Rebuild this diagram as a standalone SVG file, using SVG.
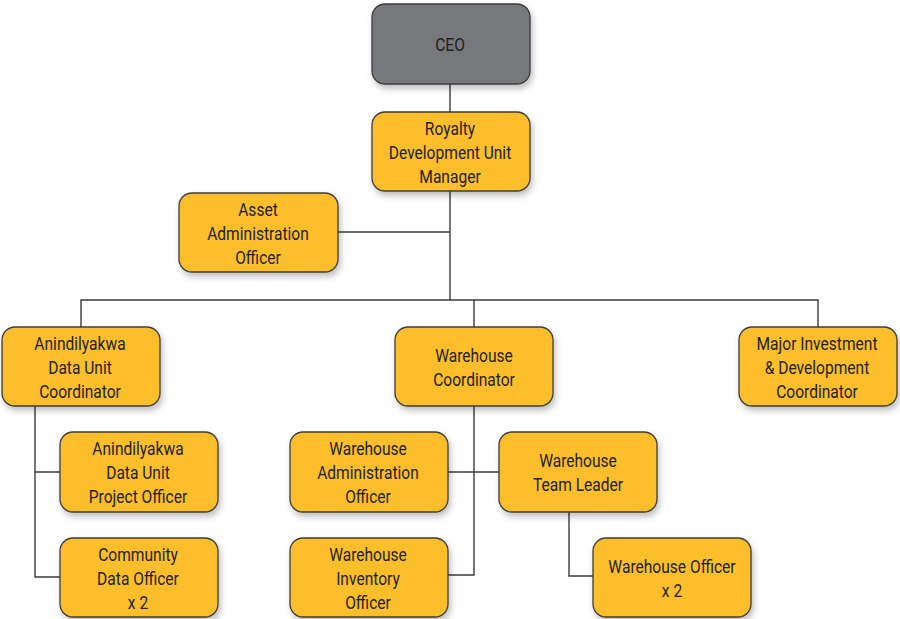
<svg xmlns="http://www.w3.org/2000/svg" width="900" height="619" viewBox="0 0 900 619">
  <style>
    .box { fill: #fcbe2b; stroke: #3d3d3d; stroke-width: 1.3; filter: url(#shadow); }
    .ceo { fill: #77787b; }
    .lbl { font-family: Roboto, "Liberation Sans", sans-serif; font-size: 19px; fill: #231f20; text-anchor: middle; }
    .link { fill: none; stroke: #3a3a3a; stroke-width: 1.4; }
  </style>
  <defs>
    <filter id="shadow" x="-10%" y="-10%" width="125%" height="135%">
      <feDropShadow dx="2" dy="4" stdDeviation="3" flood-color="#000" flood-opacity="0.25"/>
    </filter>
  </defs>
  <rect width="900" height="619" fill="#ffffff"/>

  <g id="connectors">
    <path class="link" d="M450 84V112"/>
    <path class="link" d="M450 191V300"/>
    <path class="link" d="M338 232H450"/>
    <path class="link" d="M81 327V300H818V327"/>
    <path class="link" d="M474 300V327"/>
    <path class="link" d="M35 406V577H60M35 472H60"/>
    <path class="link" d="M474 406V575H448M448 472H499"/>
    <path class="link" d="M569 512V576H593"/>
  </g>

  <g id="ceo">
    <rect class="box ceo" x="372" y="4" width="158" height="80" rx="13"/>
    <text class="lbl" transform="translate(450,0) scale(0.82,1)"><tspan x="0" y="51">CEO</tspan></text>
  </g>
  <g id="royalty-manager">
    <rect class="box" x="372" y="112" width="158" height="79" rx="13"/>
    <text class="lbl" transform="translate(450,0) scale(0.82,1)"><tspan x="0" y="135">Royalty</tspan><tspan x="0" y="159">Development Unit</tspan><tspan x="0" y="183">Manager</tspan></text>
  </g>
  <g id="asset-officer">
    <rect class="box" x="179" y="193" width="159" height="79" rx="13"/>
    <text class="lbl" transform="translate(258,0) scale(0.82,1)"><tspan x="0" y="216">Asset</tspan><tspan x="0" y="240">Administration</tspan><tspan x="0" y="264">Officer</tspan></text>
  </g>
  <g id="data-unit-coordinator">
    <rect class="box" x="2" y="327" width="158" height="79" rx="13"/>
    <text class="lbl" transform="translate(80,0) scale(0.82,1)"><tspan x="0" y="350">Anindilyakwa</tspan><tspan x="0" y="374">Data Unit</tspan><tspan x="0" y="398">Coordinator</tspan></text>
  </g>
  <g id="warehouse-coordinator">
    <rect class="box" x="395" y="327" width="158" height="79" rx="13"/>
    <text class="lbl" transform="translate(474,0) scale(0.82,1)"><tspan x="0" y="362">Warehouse</tspan><tspan x="0" y="386">Coordinator</tspan></text>
  </g>
  <g id="investment-coordinator">
    <rect class="box" x="739" y="327" width="158" height="79" rx="13"/>
    <text class="lbl" transform="translate(817,0) scale(0.82,1)"><tspan x="0" y="350">Major Investment</tspan><tspan x="0" y="374">&amp; Development</tspan><tspan x="0" y="398">Coordinator</tspan></text>
  </g>
  <g id="data-unit-project-officer">
    <rect class="box" x="60" y="432" width="158" height="80" rx="13"/>
    <text class="lbl" transform="translate(138,0) scale(0.82,1)"><tspan x="0" y="455">Anindilyakwa</tspan><tspan x="0" y="479">Data Unit</tspan><tspan x="0" y="503">Project Officer</tspan></text>
  </g>
  <g id="community-data-officer">
    <rect class="box" x="60" y="538" width="158" height="79" rx="13"/>
    <text class="lbl" transform="translate(138,0) scale(0.82,1)"><tspan x="0" y="561">Community</tspan><tspan x="0" y="585">Data Officer</tspan><tspan x="0" y="609">x 2</tspan></text>
  </g>
  <g id="warehouse-admin-officer">
    <rect class="box" x="290" y="432" width="158" height="80" rx="13"/>
    <text class="lbl" transform="translate(368,0) scale(0.82,1)"><tspan x="0" y="455">Warehouse</tspan><tspan x="0" y="479">Administration</tspan><tspan x="0" y="503">Officer</tspan></text>
  </g>
  <g id="warehouse-team-leader">
    <rect class="box" x="499" y="432" width="158" height="80" rx="13"/>
    <text class="lbl" transform="translate(578,0) scale(0.82,1)"><tspan x="0" y="467">Warehouse</tspan><tspan x="0" y="491">Team Leader</tspan></text>
  </g>
  <g id="warehouse-inventory-officer">
    <rect class="box" x="290" y="538" width="158" height="79" rx="13"/>
    <text class="lbl" transform="translate(368,0) scale(0.82,1)"><tspan x="0" y="561">Warehouse</tspan><tspan x="0" y="585">Inventory</tspan><tspan x="0" y="609">Officer</tspan></text>
  </g>
  <g id="warehouse-officer">
    <rect class="box" x="593" y="538" width="158" height="79" rx="13"/>
    <text class="lbl" transform="translate(672,0) scale(0.82,1)"><tspan x="0" y="573">Warehouse Officer</tspan><tspan x="0" y="597">x 2</tspan></text>
  </g>
</svg>
